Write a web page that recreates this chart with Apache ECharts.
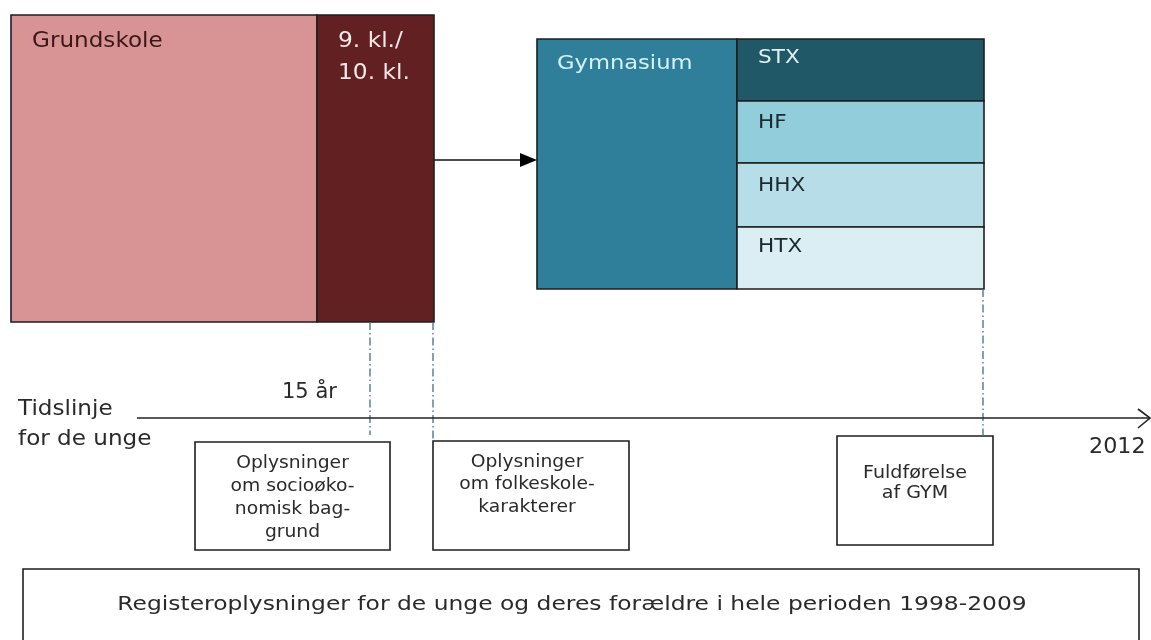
<!DOCTYPE html>
<html>
<head>
<meta charset="utf-8">
<script src="https://cdn.jsdelivr.net/npm/echarts@6/dist/echarts.min.js"></script>
<style>
html,body{margin:0;padding:0;background:#fff;}
#main{width:1151px;height:640px;}
</style>
</head>
<body>
<div id="main"></div>
<script>
// ---- Diagram data (extents in diagram units: x 0..1151, y 0..640 from top) ----
const stageLabels = ['Grundskole', '9. kl./\n10. kl.', 'Gymnasium'];
const stageExtents = [[11, 15, 317, 322], [317, 15, 434, 322], [537, 39, 737, 289]];

const trackLabels = ['STX', 'HF', 'HHX', 'HTX'];
const trackExtents = [[737, 39, 984, 101], [737, 101, 984, 163], [737, 163, 984, 227], [737, 227, 984, 289]];

const infoLabels = ['Oplysninger\nom socioøko-\nnomisk bag-\ngrund', 'Oplysninger\nom folkeskole-\nkarakterer', 'Fuldførelse\naf GYM'];
const infoExtents = [[195, 442, 390, 550], [433, 441, 629, 550], [837, 436, 993, 545]];

const footerLabel = ['Registeroplysninger for de unge og deres forældre i hele perioden 1998-2009'];
const footerExtent = [[23, 569, 1139, 700]];

const guideLines = [[370, 322, 435], [433, 322, 441], [983, 289, 436]]; // x, yTop, yBottom
const timelineLine = [[137, 418, 1150, 418]];
const flowArrow = [[434, 160, 537, 160]];

const freeLabels = ['Tidslinje\nfor de unge', '15 år', '2012'];
const freeLabelAnchors = [[18, 395], [282, 378], [1089, 433]];

// ---- Styles ----
const FONT = 'DejaVu Sans';
const stageStyle = [
  {fill: '#d89494', text: '#3a1818', font: 21, sx: 1.10, dx: 21, dy: 11, lh: 32},
  {fill: '#622022', text: '#f3e8e8', font: 21, sx: 1.11, dx: 21, dy: 11, lh: 32},
  {fill: '#2f7f9b', text: '#d6f1f7', font: 20, sx: 1.13, dx: 20, dy: 11, lh: 28}
];
const trackStyle = [
  {fill: '#215868', text: '#dff0f4', dy: 7},
  {fill: '#92cddc', text: '#1c2a30', dy: 10},
  {fill: '#b7dde8', text: '#1c2a30', dy: 11},
  {fill: '#dbeef3', text: '#1c2a30', dy: 8}
];
const infoStyle = [
  {dy: 10, lh: 23, sx: 1.04, ox: 0},
  {dy: 10, lh: 22.5, sx: 1.04, ox: -4},
  {dy: 27, lh: 20, sx: 1.06, ox: 0}
];
const freeStyle = [
  {font: 21, sx: 1.10, lh: 30},
  {font: 21, sx: 1.0, lh: 30},
  {font: 21, sx: 1.06, lh: 30}
];

function toData(ext) { return ext.map(e => ({value: e})); }

function rectRender(labels, styleFn) {
  return function (params, api) {
    const i = params.dataIndex;
    const p0 = api.coord([api.value(0), api.value(1)]);
    const p1 = api.coord([api.value(2), api.value(3)]);
    const s = styleFn(i);
    const w = p1[0] - p0[0], h = p1[1] - p0[1];
    const children = [{
      type: 'rect',
      shape: {x: p0[0], y: p0[1], width: w, height: h},
      style: {fill: s.fill, stroke: '#1e1e1e', lineWidth: 1.6}
    }];
    const tx = s.align === 'center' ? p0[0] + w / 2 + (s.ox || 0) : p0[0] + s.dx;
    children.push({
      type: 'text',
      x: tx,
      y: p0[1] + s.dy,
      scaleX: s.sx || 1,
      style: {
        text: labels[i], fill: s.text, font: s.font + 'px "' + FONT + '"',
        align: s.align || 'left', verticalAlign: 'top', lineHeight: s.lh
      }
    });
    return {type: 'group', children: children};
  };
}

const chart = echarts.init(document.getElementById('main'), null, {renderer: 'canvas'});

const option = {
  backgroundColor: '#ffffff',
  animation: false,
  grid: {left: 0, right: 0, top: 0, bottom: 0},
  xAxis: {type: 'value', min: 0, max: 1151, show: false},
  yAxis: {type: 'value', min: 0, max: 640, inverse: true, show: false},
  series: [
    {
      type: 'custom', name: 'stages', data: toData(stageExtents), clip: false,
      renderItem: rectRender(stageLabels, i => stageStyle[i])
    },
    {
      type: 'custom', name: 'tracks', data: toData(trackExtents), clip: false,
      renderItem: rectRender(trackLabels, i => ({fill: trackStyle[i].fill, text: trackStyle[i].text, font: 20, sx: 1.08, dx: 21, dy: trackStyle[i].dy, lh: 24}))
    },
    {
      type: 'custom', name: 'info', data: toData(infoExtents), clip: false,
      renderItem: rectRender(infoLabels, i => ({fill: '#ffffff', text: '#2a2a2a', font: 18, sx: infoStyle[i].sx, ox: infoStyle[i].ox, align: 'center', dy: infoStyle[i].dy, lh: infoStyle[i].lh}))
    },
    {
      type: 'custom', name: 'footer', data: toData(footerExtent), clip: true,
      renderItem: rectRender(footerLabel, i => ({fill: '#ffffff', text: '#2a2a2a', font: 20, sx: 1.17, ox: -9, align: 'center', dy: 23, lh: 26}))
    },
    {
      type: 'custom', name: 'guides', data: toData(guideLines), clip: false,
      renderItem: function (params, api) {
        const a = api.coord([api.value(0), api.value(1)]);
        const b = api.coord([api.value(0), api.value(2)]);
        return {
          type: 'line', shape: {x1: a[0], y1: a[1], x2: b[0], y2: b[1]},
          style: {stroke: '#3f6f8f', lineWidth: 1.3, lineDash: [8, 3, 1.5, 3]}
        };
      }
    },
    {
      type: 'custom', name: 'timeline', data: toData(timelineLine), clip: false,
      renderItem: function (params, api) {
        const a = api.coord([api.value(0), api.value(1)]);
        const b = api.coord([api.value(2), api.value(3)]);
        return {
          type: 'group', children: [
            {type: 'line', shape: {x1: a[0], y1: a[1], x2: b[0], y2: b[1]}, style: {stroke: '#222', lineWidth: 1.6}},
            {type: 'polyline', shape: {points: [[b[0] - 12, b[1] - 9], [b[0], b[1]], [b[0] - 12, b[1] + 10]]}, style: {stroke: '#222', lineWidth: 1.6, fill: null}}
          ]
        };
      }
    },
    {
      type: 'custom', name: 'flow', data: toData(flowArrow), clip: false,
      renderItem: function (params, api) {
        const a = api.coord([api.value(0), api.value(1)]);
        const b = api.coord([api.value(2), api.value(3)]);
        return {
          type: 'group', children: [
            {type: 'line', shape: {x1: a[0], y1: a[1], x2: b[0] - 14, y2: b[1]}, style: {stroke: '#111', lineWidth: 1.6}},
            {type: 'polygon', shape: {points: [[b[0] - 17, b[1] - 7], [b[0], b[1]], [b[0] - 17, b[1] + 7]]}, style: {fill: '#000'}}
          ]
        };
      }
    },
    {
      type: 'custom', name: 'labels', data: toData(freeLabelAnchors), clip: false,
      renderItem: function (params, api) {
        const p = api.coord([api.value(0), api.value(1)]);
        const s = freeStyle[params.dataIndex];
        return {
          type: 'text', x: p[0], y: p[1], scaleX: s.sx,
          style: {text: freeLabels[params.dataIndex], fill: '#2a2a2a', font: s.font + 'px "' + FONT + '"', align: 'left', verticalAlign: 'top', lineHeight: s.lh}
        };
      }
    }
  ]
};
chart.setOption(option);
</script>
</body>
</html>
